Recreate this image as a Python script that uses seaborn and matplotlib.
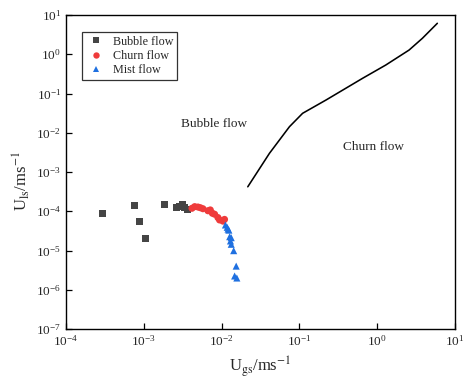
import numpy as np
import pandas as pd
import matplotlib
matplotlib.use("Agg")
import matplotlib.pyplot as plt
import matplotlib.ticker as mticker
import seaborn as sns

# ---- data ----
bubble_ugs = [2.96e-4, 7.5e-4, 8.9e-4, 1.05e-3, 1.86e-3, 2.62e-3, 2.9e-3, 3.13e-3, 3.36e-3, 3.66e-3]
bubble_uls = [9.0e-5, 1.42e-4, 5.5e-5, 2.0e-5, 1.47e-4, 1.23e-4, 1.31e-4, 1.44e-4, 1.26e-4, 1.10e-4]

churn_ugs = [4.16e-3, 4.51e-3, 4.97e-3, 5.33e-3, 5.75e-3, 6.67e-3, 7.16e-3, 7.60e-3,
             8.13e-3, 8.97e-3, 9.41e-3, 1.04e-2, 1.09e-2]
churn_uls = [1.19e-4, 1.31e-4, 1.28e-4, 1.23e-4, 1.16e-4, 1.03e-4, 1.08e-4, 8.9e-5,
             8.4e-5, 6.9e-5, 6.0e-5, 5.6e-5, 6.2e-5]

mist_ugs = [1.12e-2, 1.18e-2, 1.21e-2, 1.24e-2, 1.27e-2, 1.33e-2, 1.30e-2, 1.33e-2,
            1.43e-2, 1.54e-2, 1.47e-2, 1.57e-2]
mist_uls = [4.47e-5, 3.9e-5, 3.5e-5, 3.3e-5, 2.25e-5, 2.12e-5, 1.75e-5, 1.44e-5,
            9.9e-6, 4.0e-6, 2.24e-6, 1.99e-6]

boundary_ugs = [0.0217, 0.0412, 0.0745, 0.110, 0.22, 0.649, 1.29, 2.57, 3.81, 5.93]
boundary_uls = [4.2e-4, 2.99e-3, 0.01426, 0.0313, 0.0683, 0.244, 0.532, 1.28, 2.55, 6.15]

regimes = ["Bubble flow", "Churn flow", "Mist flow"]
colors = ["#454545", "#EF3B3B", "#1F70E0"]
markers = ["s", "o", "^"]
x_ticks = [1e-4, 1e-3, 1e-2, 1e-1, 1e0, 1e1]
y_ticks = [1e-7, 1e-6, 1e-5, 1e-4, 1e-3, 1e-2, 1e-1, 1e0, 1e1]

df = pd.DataFrame({
    "Ugs": bubble_ugs + churn_ugs + mist_ugs,
    "Uls": bubble_uls + churn_uls + mist_uls,
    "Regime": [regimes[0]] * len(bubble_ugs) + [regimes[1]] * len(churn_ugs) + [regimes[2]] * len(mist_ugs),
})
line_df = pd.DataFrame({"Ugs": boundary_ugs, "Uls": boundary_uls})

sns.set_style("ticks")
plt.rcParams["font.family"] = ["Liberation Serif", "DejaVu Serif"]
plt.rcParams["mathtext.fontset"] = "stix"
plt.rcParams["xtick.direction"] = "in"
plt.rcParams["ytick.direction"] = "in"

fig = plt.figure(figsize=(4.67, 3.81), dpi=100)
ax = fig.add_axes([66 / 467, 1 - 329 / 381, (455 - 66) / 467, (329 - 15) / 381])

sns.lineplot(data=line_df, x="Ugs", y="Uls", sort=False, estimator=None,
             color="black", linewidth=1.15, ax=ax, legend=False)
sns.scatterplot(data=df, x="Ugs", y="Uls", hue="Regime", style="Regime",
                hue_order=regimes, style_order=regimes,
                palette=dict(zip(regimes, colors)),
                markers=dict(zip(regimes, markers)),
                s=26, edgecolor="none", linewidth=0, ax=ax)

ax.set_xscale("log")
ax.set_yscale("log")
ax.set_xlim(1e-4, 1e1)
ax.set_ylim(1e-7, 1e1)
ax.xaxis.set_major_locator(mticker.FixedLocator(x_ticks))
ax.yaxis.set_major_locator(mticker.FixedLocator(y_ticks))
ax.xaxis.set_minor_locator(mticker.NullLocator())
ax.yaxis.set_minor_locator(mticker.NullLocator())
ax.xaxis.set_major_formatter(mticker.LogFormatterSciNotation())
ax.yaxis.set_major_formatter(mticker.LogFormatterSciNotation())
ax.tick_params(axis="both", which="major", length=4, width=0.9, labelsize=9.5,
               top=False, right=False, color="black")
for sp in ax.spines.values():
    sp.set_visible(True)
    sp.set_color("black")
    sp.set_linewidth(1.0)

ax.set_xlabel(r"U$_{\mathrm{gs}}$/ms$^{-1}$", fontsize=12, labelpad=4)
ax.set_ylabel(r"U$_{\mathrm{ls}}$/ms$^{-1}$", fontsize=12, labelpad=3, y=0.47)

ax.text(8.1e-3, 0.0167, "Bubble flow", fontsize=9.5, ha="center", va="center")
ax.text(0.89, 0.0043, "Churn flow", fontsize=9.5, ha="center", va="center")

leg = ax.legend(loc="upper left", bbox_to_anchor=(0.041, 0.946), borderaxespad=0,
                frameon=True, fancybox=False, edgecolor="black", fontsize=8.7,
                handletextpad=0.55, borderpad=0.3, labelspacing=0.2,
                handlelength=1.7, markerscale=0.9)
leg.get_frame().set_linewidth(0.9)
leg.set_title(None)

fig.savefig("out.png", dpi=100)
